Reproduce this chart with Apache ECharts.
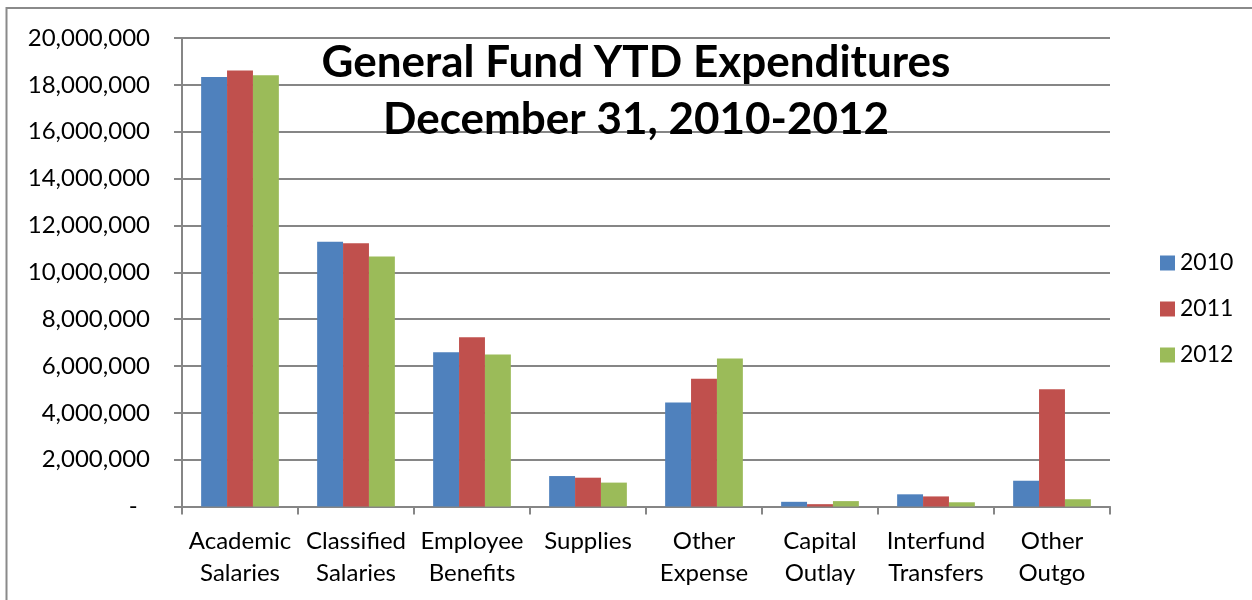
<!DOCTYPE html>
<html>
<head>
<meta charset="utf-8">
<script src="https://cdn.jsdelivr.net/npm/echarts@6/dist/echarts.min.js"></script>
<style>
  html, body { margin: 0; padding: 0; background: #fff; }
  #chart { width: 1252px; height: 600px; }
</style>
</head>
<body>
<div id="chart"></div>
<script>
// 数据
var categories = ['Academic\nSalaries', 'Classified\nSalaries', 'Employee\nBenefits', 'Supplies',
  'Other\nExpense', 'Capital\nOutlay', 'Interfund\nTransfers', 'Other\nOutgo']
var years = ['2010', '2011', '2012']
var data2010 = [18340000, 11300000, 6590000, 1300000, 4440000, 200000, 520000, 1100000]
var data2011 = [18610000, 11240000, 7220000, 1230000, 5450000, 100000, 430000, 5010000]
var data2012 = [18410000, 10670000, 6490000, 1020000, 6320000, 230000, 180000, 310000]
var colors = ['#4F81BD', '#C0504D', '#9BBB59']

var font = 'Lato, "Open Sans", sans-serif'
var MyEcharts = echarts.init(document.getElementById('chart'))

function makeBar(name, values) {
  return {
    name: name,
    type: 'bar',
    barGap: '0%',
    barCategoryGap: '33%',
    data: values
  }
}

var option = {
  backgroundColor: '#fff',
  color: colors,
  animation: false,
  graphic: [
    {
      // 外边框
      type: 'rect',
      silent: true,
      shape: { x: 6.5, y: 8, width: 1300, height: 700 },
      style: { fill: 'none', stroke: '#8a8a8a', lineWidth: 2 }
    }
  ],
  title: {
    text: 'General Fund YTD Expenditures\nDecember 31, 2010-2012',
    left: 631,
    top: 29,
    textAlign: 'center',
    textStyle: {
      fontFamily: font,
      fontWeight: 'bold',
      fontSize: 44,
      lineHeight: 57,
      color: '#000'
    }
  },
  legend: {
    orient: 'vertical',
    left: 1155,
    top: 246,
    icon: 'rect',
    itemWidth: 15,
    itemHeight: 15,
    itemGap: 22,
    textStyle: {
      fontFamily: font,
      fontSize: 23,
      lineHeight: 24,
      color: '#000'
    },
    data: years
  },
  grid: {
    left: 182,
    right: 142,
    top: 38,
    bottom: 93.5,
    containLabel: false
  },
  xAxis: {
    type: 'category',
    data: categories,
    axisLine: { lineStyle: { color: '#868686', width: 2 } },
    axisTick: {
      show: true,
      length: 8,
      lineStyle: { color: '#868686', width: 2 }
    },
    axisLabel: {
      interval: 0,
      margin: 19,
      fontFamily: font,
      fontSize: 24,
      lineHeight: 32,
      color: '#000'
    },
    splitLine: { show: false }
  },
  yAxis: {
    type: 'value',
    min: 0,
    max: 20000000,
    interval: 2000000,
    axisLine: { show: true, lineStyle: { color: '#868686', width: 2 } },
    axisTick: { show: true, length: 8, lineStyle: { color: '#868686', width: 2 } },
    axisLabel: {
      margin: 32,
      fontFamily: font,
      fontSize: 24,
      color: '#000',
      formatter: function (v) {
        if (v === 0) return '-  '
        return v.toLocaleString('en-US')
      }
    },
    splitLine: { show: true, lineStyle: { color: '#868686', width: 2 } }
  },
  series: [
    makeBar(years[0], data2010),
    makeBar(years[1], data2011),
    makeBar(years[2], data2012)
  ]
}

MyEcharts.setOption(option)
</script>
</body>
</html>
